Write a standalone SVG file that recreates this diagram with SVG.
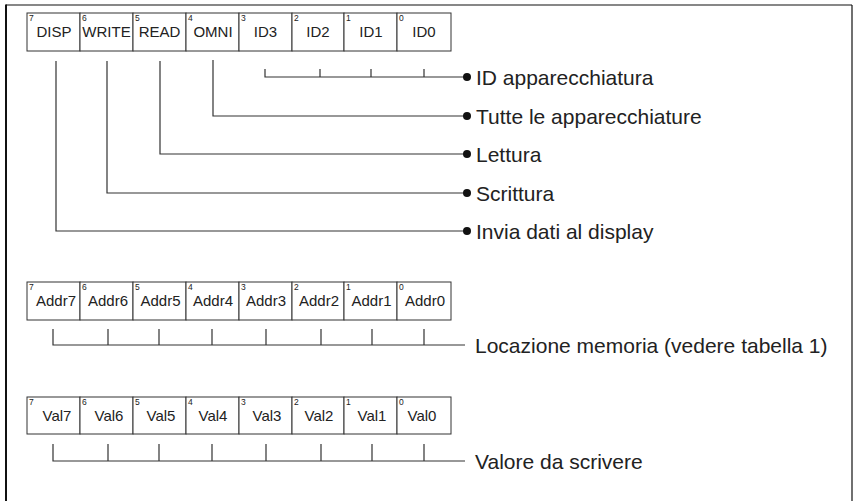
<svg xmlns="http://www.w3.org/2000/svg" width="859" height="501" viewBox="0 0 859 501">
<style>
.frame{fill:none;stroke:#111;stroke-width:1.2}
.cell{fill:#fff;stroke:#333;stroke-width:1}
.lbl{font-family:"Liberation Sans",Arial,sans-serif;font-size:15px;fill:#222;text-anchor:middle}
.bit{font-family:"Liberation Sans",Arial,sans-serif;font-size:8.5px;fill:#222}
.desc{font-family:"Liberation Sans",Arial,sans-serif;font-size:21px;fill:#222}
.ln{fill:none;stroke:#333;stroke-width:1.2}
.dot{fill:#111}
</style>
<rect width="859" height="501" fill="#fff"/>
<g id="frame">
<line x1="6" y1="5" x2="852" y2="5" class="frame"/>
<line x1="6" y1="4.5" x2="6" y2="501" stroke="#111" stroke-width="2"/>
<line x1="852" y1="5" x2="852" y2="501" class="frame"/>
</g>
<g id="reg1">
<rect x="27" y="13" width="53" height="38" class="cell"/><text x="54" y="37" class="lbl">DISP</text><text x="29" y="21" class="bit">7</text>
<rect x="80" y="13" width="53" height="38" class="cell"/><text x="106.5" y="37" class="lbl">WRITE</text><text x="82" y="21" class="bit">6</text>
<rect x="133" y="13" width="53" height="38" class="cell"/><text x="159.5" y="37" class="lbl">READ</text><text x="135" y="21" class="bit">5</text>
<rect x="186" y="13" width="53" height="38" class="cell"/><text x="213" y="37" class="lbl">OMNI</text><text x="188" y="21" class="bit">4</text>
<rect x="239" y="13" width="53" height="38" class="cell"/><text x="265.5" y="37" class="lbl">ID3</text><text x="241" y="21" class="bit">3</text>
<rect x="292" y="13" width="52" height="38" class="cell"/><text x="318" y="37" class="lbl">ID2</text><text x="294" y="21" class="bit">2</text>
<rect x="344" y="13" width="53" height="38" class="cell"/><text x="371" y="37" class="lbl">ID1</text><text x="346" y="21" class="bit">1</text>
<rect x="397" y="13" width="54" height="38" class="cell"/><text x="424" y="37" class="lbl">ID0</text><text x="399" y="21" class="bit">0</text>
</g>
<g id="reg2">
<rect x="27" y="282" width="53" height="38" class="cell"/><text x="56" y="306" class="lbl">Addr7</text><text x="29" y="290" class="bit">7</text>
<rect x="80" y="282" width="53" height="38" class="cell"/><text x="108" y="306" class="lbl">Addr6</text><text x="82" y="290" class="bit">6</text>
<rect x="133" y="282" width="53" height="38" class="cell"/><text x="160.5" y="306" class="lbl">Addr5</text><text x="135" y="290" class="bit">5</text>
<rect x="186" y="282" width="53" height="38" class="cell"/><text x="213" y="306" class="lbl">Addr4</text><text x="188" y="290" class="bit">4</text>
<rect x="239" y="282" width="53" height="38" class="cell"/><text x="266" y="306" class="lbl">Addr3</text><text x="241" y="290" class="bit">3</text>
<rect x="292" y="282" width="52" height="38" class="cell"/><text x="319" y="306" class="lbl">Addr2</text><text x="294" y="290" class="bit">2</text>
<rect x="344" y="282" width="53" height="38" class="cell"/><text x="371.5" y="306" class="lbl">Addr1</text><text x="346" y="290" class="bit">1</text>
<rect x="397" y="282" width="54" height="38" class="cell"/><text x="425" y="306" class="lbl">Addr0</text><text x="399" y="290" class="bit">0</text>
</g>
<g id="reg3">
<rect x="27" y="397" width="53" height="37" class="cell"/><text x="57" y="421" class="lbl">Val7</text><text x="29" y="405" class="bit">7</text>
<rect x="80" y="397" width="53" height="37" class="cell"/><text x="109" y="421" class="lbl">Val6</text><text x="82" y="405" class="bit">6</text>
<rect x="133" y="397" width="53" height="37" class="cell"/><text x="161" y="421" class="lbl">Val5</text><text x="135" y="405" class="bit">5</text>
<rect x="186" y="397" width="53" height="37" class="cell"/><text x="213" y="421" class="lbl">Val4</text><text x="188" y="405" class="bit">4</text>
<rect x="239" y="397" width="53" height="37" class="cell"/><text x="267" y="421" class="lbl">Val3</text><text x="241" y="405" class="bit">3</text>
<rect x="292" y="397" width="52" height="37" class="cell"/><text x="319" y="421" class="lbl">Val2</text><text x="294" y="405" class="bit">2</text>
<rect x="344" y="397" width="53" height="37" class="cell"/><text x="372" y="421" class="lbl">Val1</text><text x="346" y="405" class="bit">1</text>
<rect x="397" y="397" width="54" height="37" class="cell"/><text x="422" y="421" class="lbl">Val0</text><text x="399" y="405" class="bit">0</text>
</g>
<g id="connectors">
<path class="ln" d="M265,69 V77 H467 M320,69 V77 M371,69 V77 M424,69 V77"/>
<path class="ln" d="M213,60 V116 H467"/>
<path class="ln" d="M160,61 V154 H467"/>
<path class="ln" d="M107,61 V193 H467"/>
<path class="ln" d="M56,61 V231 H467"/>
<path class="ln" d="M53,329 V345 H465 M108,329 V345 M159,329 V345 M212,329 V345 M266,329 V345 M321,329 V345 M372,329 V345 M424,329 V345"/>
<path class="ln" d="M53,444 V461 H465 M108,444 V461 M159,444 V461 M212,444 V461 M266,444 V461 M321,444 V461 M372,444 V461 M424,444 V461"/>
<circle cx="467" cy="77" r="4" class="dot"/>
<circle cx="467" cy="116" r="4" class="dot"/>
<circle cx="467" cy="154" r="4" class="dot"/>
<circle cx="467" cy="193" r="4" class="dot"/>
<circle cx="467" cy="231" r="4" class="dot"/>
</g>
<g id="labels">
<text x="476" y="84.5" class="desc">ID apparecchiatura</text>
<text x="476" y="123.5" class="desc">Tutte le apparecchiature</text>
<text x="476" y="161.5" class="desc">Lettura</text>
<text x="476" y="200.5" class="desc">Scrittura</text>
<text x="476" y="238.5" class="desc">Invia dati al display</text>
<text x="475" y="352.5" class="desc">Locazione memoria (vedere tabella 1)</text>
<text x="475" y="468.5" class="desc">Valore da scrivere</text>
</g>
</svg>
